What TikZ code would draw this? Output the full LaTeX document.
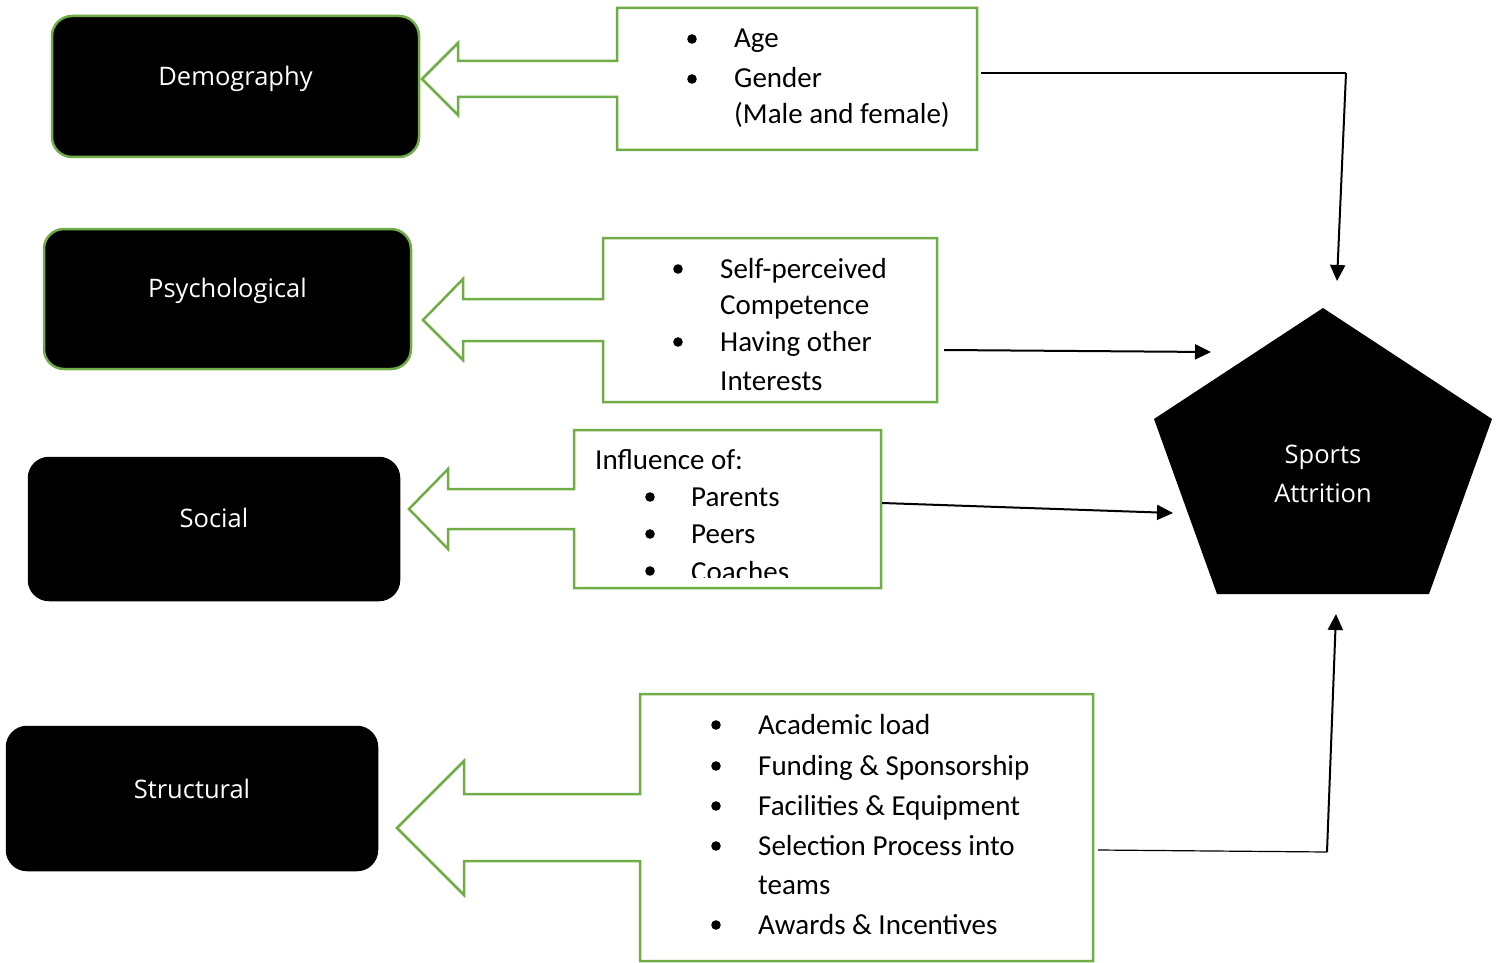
\documentclass[tikz,border=0pt]{standalone}
\usepackage{fontspec}
\setmainfont{Carlito}
\newfontfamily\boxfont{Open Sans}
\usetikzlibrary{arrows.meta}
\definecolor{lgreen}{HTML}{70AD47}
\begin{document}
\begin{tikzpicture}[x=1pt,y=-1pt,
  blackbox/.style={fill=black, draw=black, line width=2.5pt, rounded corners=20pt, inner sep=0pt},
  greenedge/.style={draw=lgreen},
  boxtext/.style={text=white, font=\boxfont\fontsize{25.5}{30}\selectfont, inner sep=0pt},
  callout/.style={draw=lgreen, line width=2.5pt, fill=white, line join=miter},
  frame/.style={draw=none, inner sep=0pt},
  item/.style={anchor=base west, inner sep=0pt, font=\fontsize{29}{36}\selectfont},
  bul/.style={fill=black, draw=none},
  lead/.style={line width=1.2pt},
  conn/.style={line width=2pt, -{Triangle[length=16pt,width=15pt]}}
]
\useasboundingbox (0,0) rectangle (1500,963);

% left black boxes
\node[blackbox, greenedge, minimum width=367pt, minimum height=141pt] (dem) at (235.5,86.5) {};
\node[boxtext] at ([yshift=8pt]dem.center) {Demography};
\node[blackbox, greenedge, minimum width=367pt, minimum height=140pt] (psy) at (227.5,299) {};
\node[boxtext] at ([yshift=8.5pt]psy.center) {Psychological};
\node[blackbox, minimum width=370pt, minimum height=142pt] (soc) at (214,529) {};
\node[boxtext] at ([yshift=11.5pt]soc.center) {Social};
\node[blackbox, minimum width=370pt, minimum height=143pt] (str) at (192,798.5) {};
\node[boxtext] at ([yshift=10pt]str.center) {Structural};

% callouts
\draw[callout] (617,8) -- (977,8) -- (977,150) -- (617,150) -- (617,97) -- (458,97) -- (458,115) -- (422,79) -- (458,43) -- (458,61) -- (617,61) -- cycle;
\node[frame, minimum width=360pt, minimum height=142pt] (b1) at (797,79) {};
\fill[bul] (692,39) circle (4.8);
\fill[bul] (692,79) circle (4.8);
\node[item] at (734,48) {Age};
\node[item] at (734,88) {Gender};
\node[item] at (734,124) {(Male and female)};

\draw[callout] (603,238) -- (937,238) -- (937,402) -- (603,402) -- (603,341) -- (463,341) -- (463,360) -- (423,320) -- (463,279) -- (463,299) -- (603,299) -- cycle;
\node[frame, minimum width=334pt, minimum height=164pt] (b2) at (770,320) {};
\fill[bul] (678,269) circle (4.8);
\fill[bul] (678,342) circle (4.8);
\node[item] at (720,278) {Self-perceived};
\node[item] at (720,314) {Competence};
\node[item] at (720,351) {Having other};
\node[item] at (720,390) {Interests};

\draw[callout] (574,430) -- (881,430) -- (881,588) -- (574,588) -- (574,529) -- (448,529) -- (448,549) -- (409,509) -- (448,469) -- (448,489) -- (574,489) -- cycle;
\node[frame, minimum width=307pt, minimum height=158pt] (b3) at (727.5,509) {};
\node[item] at (595,469) {Influence of:};
\fill[bul] (650,497) circle (4.8);
\fill[bul] (650,534) circle (4.8);
\node[item] at (691,506) {Parents};
\node[item] at (691,543) {Peers};
\begin{scope}
\clip (576,432) rectangle (879,577);
\fill[bul] (650,571) circle (4.8);
\node[item] at (691,581) {Coaches};
\end{scope}

\draw[callout] (640,694) -- (1093,694) -- (1093,961) -- (640,961) -- (640,861) -- (464,861) -- (464,895) -- (397,828) -- (464,761) -- (464,794) -- (640,794) -- cycle;
\node[frame, minimum width=453pt, minimum height=267pt] (b4) at (866.5,827.5) {};
\fill[bul] (716,725) circle (4.8);
\fill[bul] (716,766) circle (4.8);
\fill[bul] (716,806) circle (4.8);
\fill[bul] (716,846) circle (4.8);
\fill[bul] (716,925) circle (4.8);
\node[item] at (758,734) {Academic load};
\node[item] at (758,775) {Funding \& Sponsorship};
\node[item] at (758,815) {Facilities \& Equipment};
\node[item] at (758,855) {Selection Process into};
\node[item] at (758,894) {teams};
\node[item] at (758,934) {Awards \& Incentives};

% pentagon
\fill[black] (1323,308) -- (1492,419) -- (1429,594) -- (1217,594) -- (1154,419) -- cycle;
\node[inner sep=0pt, text=white, align=center, font=\boxfont\fontsize{25.5}{39}\selectfont] (P) at (1323,474) {Sports\\Attrition};

% connectors
\coordinate (k1) at (1346,73);
\coordinate (e1) at (1337,281);
\coordinate (e2) at (1211,352);
\coordinate (e3) at (1173,513);
\coordinate (k4) at (1327,852);
\coordinate (e4) at (1336,614);
\draw[lead] ([xshift=4pt,yshift=6pt]b1.east) -- (k1);
\draw[conn] (k1) -- (e1);
\draw[conn] ([xshift=7pt,yshift=-30pt]b2.east) -- (e2);
\draw[conn] ([xshift=1pt,yshift=6pt]b3.east) -- (e3);
\draw[lead] ([xshift=5pt,yshift=-22.5pt]b4.east) -- (k4);
\draw[conn] (k4) -- (e4);
\end{tikzpicture}
\end{document}
